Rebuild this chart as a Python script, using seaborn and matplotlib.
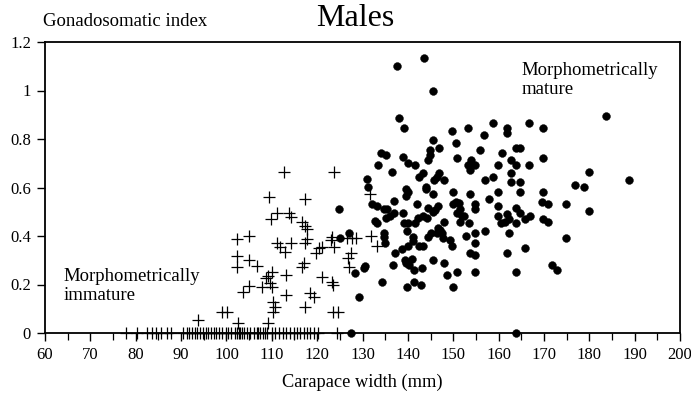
import numpy as np
import pandas as pd
import matplotlib
matplotlib.use("Agg")
import matplotlib.pyplot as plt
import seaborn as sns
from matplotlib.ticker import MultipleLocator

# ---------------- data ----------------
title = "Males"
x_label = "Carapace width (mm)"
y_label = "Gonadosomatic index"
x_ticks = [60, 70, 80, 90, 100, 110, 120, 130, 140, 150, 160, 170, 180, 190, 200]
y_ticks = [0, 0.2, 0.4, 0.6, 0.8, 1.0, 1.2]
y_tick_labels = ["0", "0.2", "0.4", "0.6", "0.8", "1", "1.2"]

immature_x = [93.8, 99.0, 100.2, 102.3, 104.9, 102.3, 102.3, 105.0, 106.8, 102.5,
              104.9, 103.7, 109.3, 112.8, 123.7, 117.4, 111.1, 109.9, 113.7, 114.2,
              116.7, 117.3, 117.8, 111.1, 111.8, 112.9, 114.3, 117.3, 117.8, 120.3,
              119.8, 121.1, 123.3, 123.7, 123.0, 126.6, 127.7, 128.6, 127.4, 126.9,
              127.0, 110.0, 109.2, 108.7, 109.6, 110.0, 107.8, 113.1, 117.0, 116.7,
              121.1, 123.3, 123.6, 113.1, 110.3, 110.7, 110.2, 118.4, 119.2, 117.3,
              123.6, 124.7, 109.2, 131.7, 131.8, 133.1]
immature_y = [0.054, 0.085, 0.085, 0.388, 0.400, 0.318, 0.271, 0.301, 0.278, 0.040,
              0.194, 0.170, 0.562, 0.663, 0.663, 0.551, 0.494, 0.470, 0.494, 0.480,
              0.459, 0.441, 0.430, 0.372, 0.356, 0.335, 0.372, 0.370, 0.386, 0.349,
              0.331, 0.356, 0.397, 0.356, 0.384, 0.392, 0.392, 0.392, 0.329, 0.308,
              0.273, 0.253, 0.235, 0.226, 0.207, 0.191, 0.191, 0.239, 0.287, 0.271,
              0.232, 0.212, 0.198, 0.157, 0.129, 0.108, 0.088, 0.164, 0.150, 0.108,
              0.085, 0.085, 0.040, 0.572, 0.400, 0.359]

# immature crabs with a gonadosomatic index of zero
immature_zero_x = [77.8, 80.2, 82.4, 83.5, 84.5, 85.5, 86.8, 87.8, 90.5, 91.2,
                   91.8, 92.4, 93.0, 93.6, 94.2, 94.8, 95.5, 96.0, 96.6, 97.2,
                   97.8, 98.4, 99.0, 99.8, 100.4, 101.0, 101.9, 102.3, 102.7, 103.0,
                   103.4, 103.8, 104.5, 105.2, 106.0, 106.7, 107.0, 107.4, 108.1, 108.5,
                   109.0, 110.0, 110.7, 111.5, 112.5, 113.2, 114.0, 114.8, 115.5, 116.3,
                   117.0, 117.8, 118.5, 119.2, 120.1, 124.3]

mature_x = [137.5, 143.6, 145.6, 138.1, 139.2, 134.0, 135.2, 133.5, 136.4, 139.0,
            140.0, 141.6, 144.9, 144.8, 144.5, 143.4, 142.4, 131.1, 131.2, 139.6,
            140.0, 143.9, 137.0, 132.1, 133.3, 139.6, 142.0, 134.7, 135.5, 144.4,
            124.8, 132.8, 133.2, 135.1, 137.0, 138.9, 136.0, 139.1, 140.0, 141.5,
            139.8, 142.2, 143.4, 144.2, 127.0, 125.1, 134.7, 134.8, 135.0, 141.1,
            141.2, 142.5, 143.4, 140.0, 138.7, 144.5, 137.2, 139.4, 139.6, 140.9,
            140.2, 141.3, 143.2, 136.7, 130.6, 130.3, 128.3, 134.4, 141.4, 143.0,
            139.9, 129.2, 127.5,
            158.8, 166.7, 153.3, 161.8, 161.8, 149.7, 169.8, 156.8, 145.6, 150.6,
            146.9, 163.8, 164.7, 155.8, 160.8, 150.8, 153.9, 153.3, 153.7, 154.8,
            159.8, 162.8, 163.8, 166.8, 169.8, 146.9, 146.4, 145.8, 148.0, 162.7,
            162.8, 156.9, 158.8, 164.7, 144.0, 145.5, 149.9, 153.7, 159.9, 164.8,
            169.8, 157.8, 146.7, 145.5, 146.0, 150.6, 151.2, 150.0, 151.5, 150.8,
            151.9, 151.5, 154.8, 154.8, 152.4, 159.9, 159.9, 161.8, 162.2, 161.4,
            160.5, 163.9, 164.7, 163.9, 165.9, 166.9, 169.6, 170.8, 169.8, 170.8,
            174.8, 148.0, 153.5, 146.7, 147.1, 146.4, 147.5, 145.0, 147.8, 149.3,
            149.7, 152.8, 154.8, 156.9, 162.2, 154.9, 153.7, 154.7, 161.9, 165.9,
            174.8, 145.6, 147.9, 148.7, 150.8, 154.9, 163.9, 171.8, 172.8, 149.9,
            163.8,
            179.9, 188.8, 176.8, 178.8, 179.9, 183.7]
mature_y = [1.101, 1.133, 0.999, 0.887, 0.845, 0.744, 0.733, 0.692, 0.663, 0.725,
            0.702, 0.693, 0.755, 0.734, 0.713, 0.661, 0.642, 0.634, 0.603, 0.593,
            0.581, 0.593, 0.543, 0.532, 0.524, 0.566, 0.532, 0.511, 0.511, 0.514,
            0.511, 0.462, 0.455, 0.473, 0.494, 0.494, 0.484, 0.452, 0.455, 0.455,
            0.422, 0.473, 0.484, 0.473, 0.411, 0.392, 0.411, 0.397, 0.371, 0.397,
            0.378, 0.360, 0.360, 0.360, 0.348, 0.395, 0.331, 0.301, 0.287, 0.306,
            0.282, 0.260, 0.269, 0.279, 0.276, 0.268, 0.249, 0.209, 0.209, 0.198,
            0.188, 0.148, 0.0,
            0.866, 0.866, 0.845, 0.845, 0.825, 0.834, 0.845, 0.815, 0.796, 0.785,
            0.764, 0.764, 0.764, 0.755, 0.744, 0.723, 0.713, 0.693, 0.672, 0.693,
            0.693, 0.713, 0.693, 0.693, 0.723, 0.661, 0.642, 0.631, 0.631, 0.661,
            0.621, 0.631, 0.642, 0.621, 0.603, 0.572, 0.580, 0.572, 0.580, 0.580,
            0.580, 0.551, 0.524, 0.498, 0.507, 0.541, 0.535, 0.532, 0.511, 0.494,
            0.482, 0.459, 0.532, 0.511, 0.482, 0.524, 0.482, 0.492, 0.470, 0.459,
            0.452, 0.514, 0.494, 0.452, 0.470, 0.482, 0.541, 0.532, 0.470, 0.459,
            0.532, 0.459, 0.452, 0.432, 0.425, 0.414, 0.411, 0.414, 0.391, 0.384,
            0.360, 0.401, 0.411, 0.421, 0.411, 0.372, 0.331, 0.320, 0.331, 0.349,
            0.392, 0.300, 0.290, 0.239, 0.250, 0.250, 0.250, 0.280, 0.260, 0.188,
            0.0,
            0.663, 0.631, 0.612, 0.601, 0.502, 0.895]

# ---------------- build table ----------------
df_imm = pd.DataFrame({
    "cw": immature_x + immature_zero_x,
    "gsi": immature_y + [0.0] * len(immature_zero_x),
})
df_mat = pd.DataFrame({"cw": mature_x, "gsi": mature_y})

# ---------------- style ----------------
sns.set_theme(style="ticks")
plt.rcParams["font.family"] = ["Liberation Serif", "DejaVu Serif"]
plt.rcParams["axes.linewidth"] = 1.3

fig = plt.figure(figsize=(6.91, 3.99), dpi=100)
ax = fig.add_axes([45 / 691, 1 - 333 / 399, (680 - 45) / 691, (333 - 42) / 399])

sns.scatterplot(data=df_imm, x="cw", y="gsi", ax=ax, marker="+", s=75,
                color="black", linewidth=0.9, legend=False, clip_on=False, zorder=3)
sns.scatterplot(data=df_mat, x="cw", y="gsi", ax=ax, marker="o", s=32,
                color="black", edgecolor="black", linewidth=0.3, legend=False,
                clip_on=False, zorder=4)

ax.set_xlim(60, 200)
ax.set_ylim(0, 1.2)
ax.set_xticks(x_ticks)
ax.set_xticklabels([str(t) for t in x_ticks], fontsize=12)
ax.xaxis.set_minor_locator(MultipleLocator(5))
ax.set_yticks(y_ticks)
ax.set_yticklabels(y_tick_labels, fontsize=12)
ax.tick_params(axis="both", which="major", direction="out", length=6, width=1.0,
               color="black", labelcolor="black", pad=4)
ax.tick_params(axis="x", which="minor", direction="out", length=5, width=0.9,
               color="black")
for sp in ax.spines.values():
    sp.set_visible(True)
    sp.set_color("black")
    sp.set_linewidth(1.3)

ax.set_xlabel(x_label, fontsize=13.2, color="black", labelpad=8)
ax.set_ylabel("")

fig.text(43 / 691, 1 - 22 / 399, y_label, fontsize=13.5, ha="left", va="center",
         color="black")
fig.text(355 / 691, 1 - 19 / 399, title, fontsize=23, ha="center", va="center",
         color="black")

ax.text(64.0, 0.194, "Morphometrically\nimmature", fontsize=13.5, ha="left",
        va="center", linespacing=1.1, color="black")
ax.text(165.0, 1.043, "Morphometrically\nmature", fontsize=13.5, ha="left",
        va="center", linespacing=1.1, color="black")

fig.savefig("out.png", dpi=100)
